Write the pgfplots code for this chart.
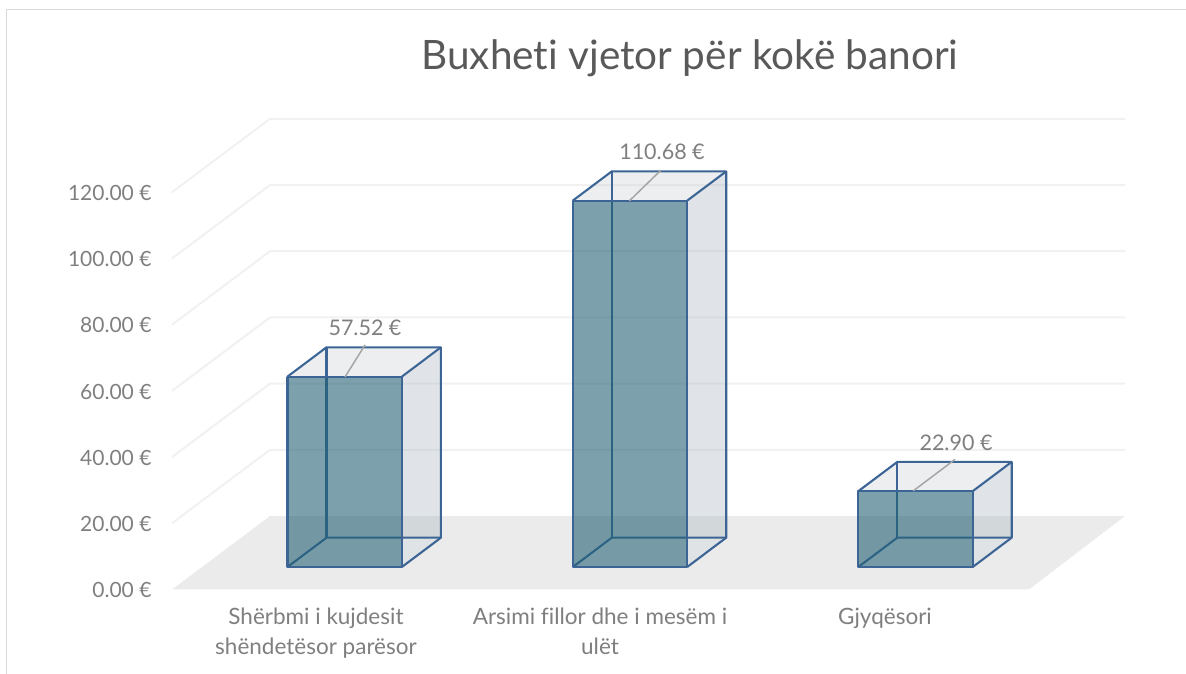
\documentclass[border=0pt]{standalone}
\usepackage{pgfplots}
\pgfplotsset{compat=1.18}
\usepackage{fontspec}
\setmainfont[Ligatures=NoCommon]{Lato}
\definecolor{txt}{HTML}{7F7F7F}
\definecolor{ttl}{HTML}{595959}
\definecolor{grd}{HTML}{F1F1F1}
\definecolor{flr}{HTML}{EBEBEB}
\definecolor{edg}{HTML}{3C6596}
\definecolor{frt}{HTML}{246276}
\definecolor{sid}{HTML}{A6B2BD}
\definecolor{tpf}{HTML}{C8CED4}
\definecolor{ldr}{HTML}{A6A6A6}
% one box: #1 left x of the front face, #2 value in euro
\newcommand{\barbox}[2]{%
  \pgfmathsetmacro\xa{#1}\pgfmathsetmacro\xb{#1+114.4}%
  \pgfmathsetmacro\xc{#1+39}\pgfmathsetmacro\xd{#1+153.4}%
  \pgfmathsetmacro\ya{6.8}\pgfmathsetmacro\yb{6.8+#2}%
  \pgfmathsetmacro\yc{6.8+8.85}\pgfmathsetmacro\yd{6.8+8.85+#2}%
  \addplot[draw=none,fill=sid,fill opacity=0.35] coordinates {(\xb,\ya)(\xd,\yc)(\xd,\yd)(\xb,\yb)(\xb,\ya)};
  \addplot[draw=none,fill=white,fill opacity=0.3] coordinates {(\xa,\ya)(\xb,\ya)(\xd,\yc)(\xc,\yc)(\xa,\ya)};
  \addplot[draw=none,fill=tpf,fill opacity=0.35] coordinates {(\xa,\yb)(\xb,\yb)(\xd,\yd)(\xc,\yd)(\xa,\yb)};
  \addplot[edg,line width=2.1pt,line join=round] coordinates {(\xa,\ya)(\xc,\yc)(\xd,\yc)};
  \addplot[edg,line width=2.1pt,line join=round] coordinates {(\xc,\yc)(\xc,\yd)};
  \addplot[edg,line width=2.1pt,line join=round] coordinates {(\xb,\ya)(\xd,\yc)(\xd,\yd)(\xc,\yd)(\xa,\yb)};
  \addplot[edg,line width=2.1pt] coordinates {(\xb,\yb)(\xd,\yd)};
  \addplot[draw=none,fill=frt,fill opacity=0.6] coordinates {(\xa,\ya)(\xb,\ya)(\xb,\yb)(\xa,\yb)(\xa,\ya)};
  \addplot[edg,line width=2.1pt,line join=round] coordinates {(\xa,\ya)(\xb,\ya)(\xb,\yb)(\xa,\yb)(\xa,\ya)(\xb,\ya)};
}
\begin{document}
\begin{tikzpicture}[x=1pt,y=1pt]
\path[use as bounding box] (0,0) rectangle (1186,674);
\draw[draw=black!15,line width=1.6pt] (6.5,0) -- (6.5,664.5) -- (1186,664.5);
\begin{axis}[
  at={(172pt,84.5pt)},anchor=south west,
  scale only axis,width=953pt,height=471.5pt,
  xmin=172,xmax=1125,ymin=0,ymax=142.45,
  clip=false,
  axis line style={draw=none},
  major tick style={draw=none},
  ytick={0,20,40,60,80,100,120},
  yticklabel={\pgfmathprintnumber[fixed,fixed zerofill,precision=2,assume math mode=true]{\tick}\ €},
  /pgf/number format/assume math mode=true,
  y tick label style={font=\fontsize{21}{25}\selectfont,text=txt},
  ytick pos=left,xtick pos=bottom,
  tick align=outside,
  major tick length=0pt,
  yticklabel style={xshift=-17pt,yshift=-0.7pt},
  xtick={316,600,885},
  xticklabels={{Shërbmi i kujdesit\\shëndetësor parësor},{Arsimi fillor dhe i mesëm i\\ulët},{Gjyqësori}},
  x tick label style={font=\fontsize{22.5}{30}\selectfont,text=txt,align=center,anchor=north,yshift=-15pt},
  x tick label as interval=false,
]
\addplot[draw=none,fill=flr] coordinates {(172,0)(270,22.2)(1125,22.2)(1029,0)(172,0)};
\addplot[grd,line width=2pt,line join=round] coordinates {(172,20)(270,42.2)(1125,42.2)};
\addplot[grd,line width=2pt,line join=round] coordinates {(172,40)(270,62.2)(1125,62.2)};
\addplot[grd,line width=2pt,line join=round] coordinates {(172,60)(270,82.2)(1125,82.2)};
\addplot[grd,line width=2pt,line join=round] coordinates {(172,80)(270,102.2)(1125,102.2)};
\addplot[grd,line width=2pt,line join=round] coordinates {(172,100)(270,122.2)(1125,122.2)};
\addplot[grd,line width=2pt,line join=round] coordinates {(172,120)(270,142.2)(1125,142.2)};
\barbox{287.5}{57.52}
\barbox{572.8}{110.68}
\barbox{858.3}{22.90}
\addplot[ldr,line width=1.5pt] coordinates {(345,64.2)(365,73.9)};
\addplot[ldr,line width=1.5pt] coordinates {(629.3,117.4)(661,126.7)};
\addplot[ldr,line width=1.5pt] coordinates {(913.3,29.8)(955,39.3)};
\node[text=txt,font=\fontsize{21.5}{25}\selectfont] at (axis cs:365,79.0) {57.52 €};
\node[text=txt,font=\fontsize{21.5}{25}\selectfont] at (axis cs:662,132.2) {110.68 €};
\node[text=txt,font=\fontsize{21.5}{25}\selectfont] at (axis cs:956,44.3) {22.90 €};
\node[text=ttl,font=\fontsize{40.5}{46}\selectfont] at (axis cs:690,160.5) {Buxheti vjetor për kokë banori};
\end{axis}
\end{tikzpicture}
\end{document}
